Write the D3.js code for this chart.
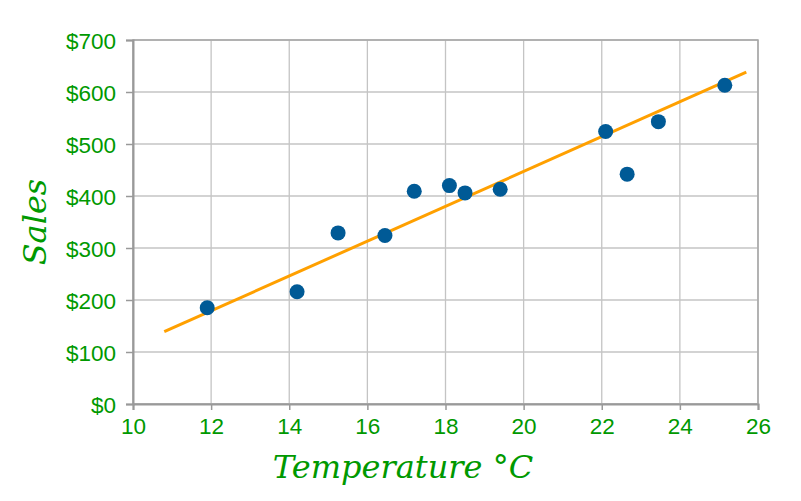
<!DOCTYPE html>
<html>
<head>
<meta charset="utf-8">
<script src="https://cdn.jsdelivr.net/npm/d3@7"></script>
<style>
  body { margin: 0; background: #fff; }
  svg { display: block; }
</style>
</head>
<body>
<svg id="chart"></svg>
<script>
// temperature (°C) vs sales
const temps = [11.9, 14.2, 15.25, 16.45, 17.2, 18.1, 18.5, 19.4, 22.1, 22.65, 23.45, 25.15];
const sales = [185, 216, 329, 324, 409, 420, 406, 413, 524, 442, 543, 613];
// trend line ends
const trendX = [10.8, 25.7];
const trendY = [139, 638];
const xTicks = [10, 12, 14, 16, 18, 20, 22, 24, 26];
const yTicks = [0, 100, 200, 300, 400, 500, 600, 700];

const width = 801, height = 501;
const margin = {top: 40, right: 43, bottom: 97, left: 133};
const green = '#009900';

const svg = d3.select('#chart').attr('width', width).attr('height', height);

const x = d3.scaleLinear().domain([10, 26]).range([margin.left, width - margin.right]);
const y = d3.scaleLinear().domain([0, 700]).range([height - margin.bottom, margin.top]);

// grid
const grid = svg.append('g').attr('stroke', '#c4c4c4').attr('stroke-width', 1.3);
grid.selectAll('.vx').data(xTicks).enter().append('line')
    .attr('x1', d => x(d)).attr('x2', d => x(d))
    .attr('y1', y(0)).attr('y2', y(700));
grid.selectAll('.hy').data(yTicks).enter().append('line')
    .attr('x1', x(10)).attr('x2', x(26))
    .attr('y1', d => y(d)).attr('y2', d => y(d));

// frame
svg.append('rect')
    .attr('x', x(10)).attr('y', y(700))
    .attr('width', x(26) - x(10)).attr('height', y(0) - y(700))
    .attr('fill', 'none').attr('stroke', '#a6a6a6').attr('stroke-width', 1.5);

// axes
const xAxis = svg.append('g')
    .attr('transform', `translate(0,${y(0)})`)
    .call(d3.axisBottom(x).tickValues(xTicks).tickSize(6).tickPadding(5));
const yAxis = svg.append('g')
    .attr('transform', `translate(${x(10)},0)`)
    .call(d3.axisLeft(y).tickValues(yTicks).tickFormat(d => '$' + d).tickSize(7).tickPadding(10));

[xAxis, yAxis].forEach(a => {
    a.select('.domain').attr('stroke', '#999').attr('stroke-width', 2);
    a.selectAll('.tick line').attr('stroke', '#999').attr('stroke-width', 1.5);
    a.selectAll('.tick text')
        .attr('fill', green)
        .style('font-family', 'Arial, "Liberation Sans", sans-serif')
        .style('font-size', '22.5px');
});
yAxis.selectAll('.tick text').attr('dy', '0.36em');
xAxis.selectAll('.tick text').attr('dy', '0.85em');

// trend line
svg.append('line')
    .attr('x1', x(trendX[0])).attr('y1', y(trendY[0]))
    .attr('x2', x(trendX[1])).attr('y2', y(trendY[1]))
    .attr('stroke', '#ffa000').attr('stroke-width', 3);

// points
svg.append('g').selectAll('circle')
    .data(temps.map((t, i) => [t, sales[i]]))
    .enter().append('circle')
    .attr('cx', d => x(d[0]))
    .attr('cy', d => y(d[1]))
    .attr('r', 7.5)
    .attr('fill', '#005a96');

// axis titles
svg.append('text')
    .attr('x', 403).attr('y', 478)
    .attr('text-anchor', 'middle')
    .attr('fill', green)
    .style('font-family', '"DejaVu Serif", serif')
    .style('font-style', 'italic')
    .style('font-size', '32px')
    .text('Temperature °C');

svg.append('text')
    .attr('transform', 'translate(46,222) rotate(-90)')
    .attr('text-anchor', 'middle')
    .attr('fill', green)
    .style('font-family', '"DejaVu Serif", serif')
    .style('font-style', 'italic')
    .style('font-size', '32px')
    .text('Sales');
</script>
</body>
</html>
